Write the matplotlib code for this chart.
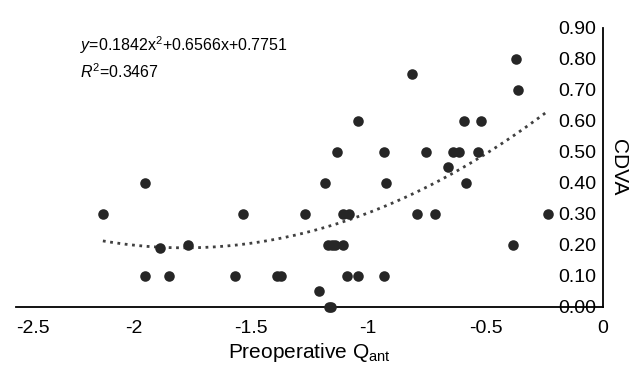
import matplotlib

matplotlib.use("Agg")
import matplotlib.pyplot as plt  # noqa: E402
import numpy as np  # noqa: E402

plt.rcParams["font.family"] = ["Liberation Sans", "DejaVu Sans"]
plt.rcParams["mathtext.fontset"] = "custom"
plt.rcParams["mathtext.rm"] = "Liberation Sans"
plt.rcParams["mathtext.it"] = "Liberation Sans:italic"

# preoperative Q_ant vs CDVA
q_ant = [-0.370, -0.815, -0.361,
         -1.042, -0.592, -0.521,
         -1.134, -0.931, -0.754, -0.640, -0.612, -0.531,
         -0.659,
         -1.950, -1.184, -0.924, -0.583,
         -2.130, -1.535, -1.270, -1.109, -1.080, -0.793, -0.714, -0.233,
         -1.766, -1.170, -1.155, -1.140, -1.106, -0.382,
         -1.887,
         -1.950, -1.847, -1.566, -1.390, -1.373, -1.092, -1.042, -0.931,
         -1.210,
         -1.168, -1.158]
cdva = [0.80, 0.75, 0.70,
        0.60, 0.60, 0.60,
        0.50, 0.50, 0.50, 0.50, 0.50, 0.50,
        0.45,
        0.40, 0.40, 0.40, 0.40,
        0.30, 0.30, 0.30, 0.30, 0.30, 0.30, 0.30, 0.30,
        0.20, 0.20, 0.20, 0.20, 0.20, 0.20,
        0.19,
        0.10, 0.10, 0.10, 0.10, 0.10, 0.10, 0.10, 0.10,
        0.05,
        0.00, 0.00]

# quadratic trendline coefficients as printed on the chart (a, b, c)
trend_coef = [0.1842, 0.6566, 0.7751]
r2 = 0.3467

x_ticks = [-2.5, -2, -1.5, -1, -0.5, 0]
x_ticklabels = ["-2.5", "-2", "-1.5", "-1", "-0.5", "0"]
y_ticks = [0.0, 0.1, 0.2, 0.3, 0.4, 0.5, 0.6, 0.7, 0.8, 0.9]

fig = plt.figure(figsize=(6.35, 3.65), dpi=100)
ax = fig.add_axes([0.0252, 0.1597, 0.9244, 0.7643])

xs = np.linspace(min(q_ant), max(q_ant), 200)
ax.plot(xs, np.polyval(trend_coef, xs), linestyle=":", linewidth=2.0,
        color="#404040", zorder=2)
ax.plot(q_ant, cdva, linestyle="none", marker="o", markersize=7.6,
        color="#262626", markeredgewidth=0, zorder=3, clip_on=False)

ax.set_xlim(-2.5, 0)
ax.set_ylim(0, 0.9)

for s in ("top", "right"):
    ax.spines[s].set_visible(False)
ax.spines["left"].set_position(("data", 0))
ax.spines["left"].set_linewidth(1.3)
ax.spines["bottom"].set_linewidth(1.3)

ax.set_xticks(x_ticks)
ax.set_xticklabels(x_ticklabels)
ax.set_yticks(y_ticks)
ax.set_yticklabels([f"{v:.2f}" for v in y_ticks])
ax.tick_params(axis="x", length=0, pad=9.5, labelsize=14)
ax.tick_params(axis="y", length=0, pad=5, labelsize=14)
ax.get_xticklabels()[0].set_horizontalalignment("left")

ax.set_xlabel(r"Preoperative Q$_{\mathrm{ant}}$", fontsize=15, labelpad=3)
ax.yaxis.set_label_position("right")
ax.set_ylabel("CDVA", fontsize=15, rotation=270, labelpad=18)

a, b, c = trend_coef
ax.text(-2.227, 0.844, rf"$y$={a:.4f}x$^{{2}}$+{b:.4f}x+{c:.4f}",
        fontsize=11.5, va="center", ha="left")
ax.text(-2.227, 0.757, rf"$R^{{2}}$={r2:.4f}", fontsize=11.5,
        va="center", ha="left")

fig.savefig("out.png", dpi=100)
